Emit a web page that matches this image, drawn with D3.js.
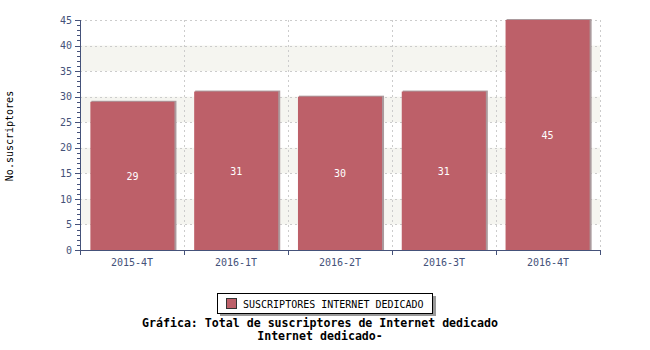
<!DOCTYPE html>
<html>
<head>
<meta charset="utf-8">
<script src="https://cdnjs.cloudflare.com/ajax/libs/d3/7.8.5/d3.min.js"></script>
<style>
  body { margin: 0; background: #fff; }
  svg { display: block; font-family: "DejaVu Sans Mono", monospace; }
</style>
</head>
<body>
<svg id="chart" width="650" height="350"></svg>
<script>
const categories = ["2015-4T", "2016-1T", "2016-2T", "2016-3T", "2016-4T"];
const values = [29, 31, 30, 31, 45];
const yTicks = [0, 5, 10, 15, 20, 25, 30, 35, 40, 45];
const seriesName = "SUSCRIPTORES INTERNET DEDICADO";
const yTitle = "No.suscriptores";
const titleLines = ["Gráfica: Total de suscriptores de Internet dedicado", "Internet dedicado-"];

const svg = d3.select("#chart");
const margin = { left: 80, right: 50, top: 20, bottom: 100 };
const W = 650, H = 350;
const x0 = margin.left, x1 = W - margin.right;
const y0 = H - margin.bottom, y1 = margin.top;

const x = d3.scaleBand().domain(categories).range([x0, x1]).paddingInner(0.19).paddingOuter(0.1);
const xb = d3.scaleBand().domain(categories).range([x0, x1]);
const y = d3.scaleLinear().domain([0, 45]).range([y0, y1]);

const axisColor = "#45527a";

// alternating bands
const bands = [[5, 10], [15, 20], [25, 30], [35, 40]];
svg.append("g").selectAll("rect").data(bands).enter().append("rect")
  .attr("x", x0).attr("width", x1 - x0)
  .attr("y", d => y(d[1])).attr("height", d => y(d[0]) - y(d[1]))
  .attr("fill", "#f5f5f0");

// grid
const grid = svg.append("g").attr("stroke", "#cccccc").attr("stroke-dasharray", "2,3").attr("shape-rendering", "crispEdges");
grid.selectAll("line.h").data(yTicks.filter(d => d > 0)).enter().append("line")
  .attr("x1", x0).attr("x2", x1).attr("y1", d => Math.round(y(d)) + 0.5).attr("y2", d => Math.round(y(d)) + 0.5);
grid.selectAll("line.v").data(categories).enter().append("line")
  .attr("x1", d => xb(d) + xb.bandwidth() + 0.5).attr("x2", d => xb(d) + xb.bandwidth() + 0.5)
  .attr("y1", y1).attr("y2", y0);

// bars with shadow
const bars = svg.append("g");
bars.selectAll("rect.sh").data(values).enter().append("rect")
  .attr("x", (d, i) => x(categories[i]) + 1).attr("y", d => y(d) - 1)
  .attr("width", x.bandwidth() + 1).attr("height", d => y0 - y(d) + 1)
  .attr("fill", "#ab9a9d");
bars.selectAll("rect.b").data(values).enter().append("rect")
  .attr("x", (d, i) => x(categories[i])).attr("y", d => y(d))
  .attr("width", x.bandwidth()).attr("height", d => y0 - y(d))
  .attr("fill", "#bd6069");
bars.selectAll("text").data(values).enter().append("text")
  .attr("x", (d, i) => x(categories[i]) + x.bandwidth() / 2)
  .attr("y", d => (y(d) + y0) / 2 + 4)
  .attr("text-anchor", "middle").attr("fill", "#fff").attr("font-size", "10px")
  .text(d => d);

// y axis
svg.append("g").attr("transform", `translate(${x0},0)`)
  .call(d3.axisLeft(y).tickValues(yTicks).tickSize(5).tickPadding(3));
svg.append("g").attr("transform", `translate(${x0},0)`)
  .call(d3.axisLeft(y).tickValues(d3.range(0, 46, 1)).tickSize(3).tickFormat(""))
  .call(g => g.select(".domain").remove());

// x axis
svg.append("g").attr("transform", `translate(0,${y0})`)
  .call(d3.axisBottom(xb).tickSize(0).tickPadding(9));
svg.append("g").attr("transform", `translate(0,${y0})`)
  .call(d3.axisBottom(d3.scaleLinear().domain([0, 5]).range([x0, x1])).ticks(5).tickSize(5).tickFormat(""))
  .call(g => g.select(".domain").remove());

svg.selectAll(".tick line, .domain").attr("stroke", axisColor).attr("shape-rendering", "crispEdges");
svg.selectAll(".tick text").attr("fill", axisColor).attr("font-size", "10px").attr("font-family", "DejaVu Sans Mono, monospace");

// y title
svg.append("text").attr("transform", "translate(13,136) rotate(-90)")
  .attr("text-anchor", "middle").attr("font-size", "10px").attr("fill", "#000").text(yTitle);

// legend
const lg = svg.append("g").attr("transform", "translate(217,293)");
lg.append("rect").attr("x", 3).attr("y", 3).attr("width", 216).attr("height", 20).attr("fill", "#999");
lg.append("rect").attr("x", 0.5).attr("y", 0.5).attr("width", 215).attr("height", 20).attr("fill", "#fff").attr("stroke", "#000");
lg.append("rect").attr("x", 9.5).attr("y", 5.5).attr("width", 10).attr("height", 10).attr("fill", "#bd6069").attr("stroke", "#333");
lg.append("text").attr("x", 26).attr("y", 14.5).attr("font-size", "10px").attr("fill", "#000").text(seriesName);

// title
svg.append("g").selectAll("text").data(titleLines).enter().append("text")
  .attr("x", 320).attr("y", (d, i) => 327 + i * 13)
  .attr("text-anchor", "middle").attr("font-weight", "bold").attr("font-size", "11.6px").attr("fill", "#000")
  .text(d => d);
</script>
</body>
</html>
